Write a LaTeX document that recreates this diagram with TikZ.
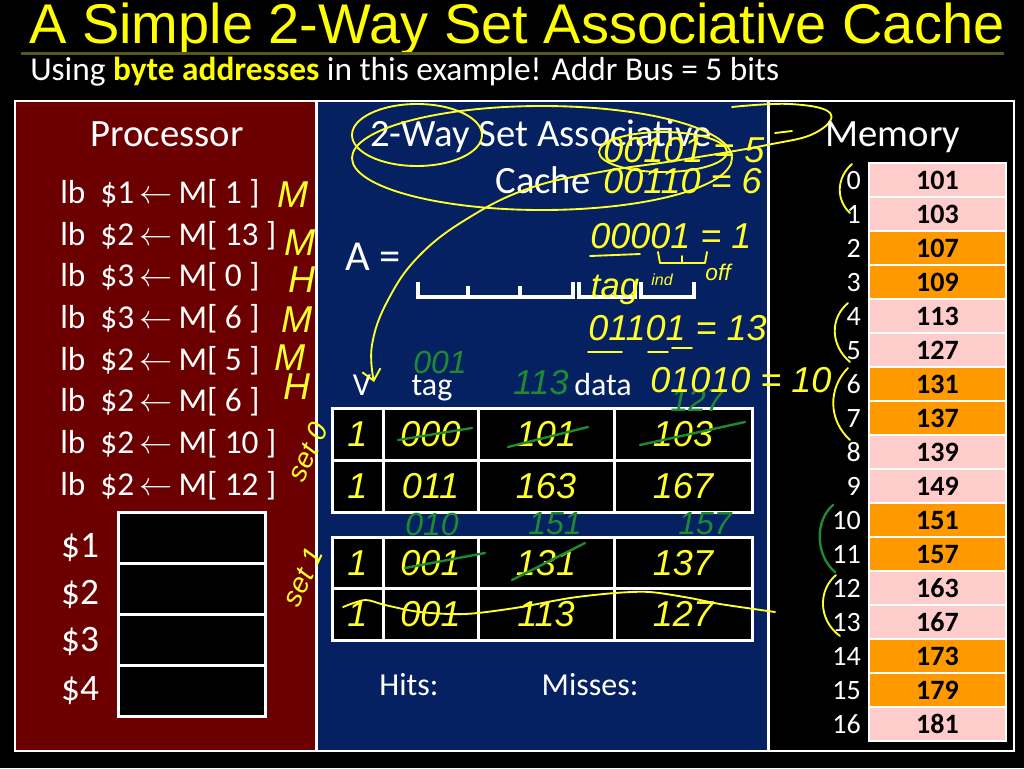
\documentclass[tikz,border=0pt]{standalone}
\usepackage{fontspec}
\setmainfont{Carlito}
\newfontfamily\arialfont{Liberation Sans}
\newfontfamily\handfont{Liberation Sans}
\usetikzlibrary{arrows.meta}
\definecolor{procred}{HTML}{6C0000}
\definecolor{cacheblue}{HTML}{052162}
\definecolor{mempink}{HTML}{FFCCCC}
\definecolor{memorange}{HTML}{FF9900}
\definecolor{hy}{HTML}{FFFF2A}
\definecolor{hg}{HTML}{1E8A32}
\definecolor{oliveline}{HTML}{56561E}
\definecolor{titleyellow}{HTML}{FFFF00}
\newcommand{\myhand}[1]{\handfont\itshape\fontsize{#1}{#1}\selectfont}
\newcommand{\myfs}[1]{\fontsize{#1}{#1}\selectfont}
\begin{document}
\begin{tikzpicture}[x=0.75pt,y=-0.75pt,
  wtext/.style={text=white, inner sep=0pt},
  headtext/.style={wtext, anchor=base, font=\myfs{29}},
  instr/.style={wtext, anchor=base west, font=\myfs{25}},
  reglbl/.style={wtext, anchor=base, font=\myfs{28}},
  regbox/.style={draw=white, fill=black, line width=2.25pt, minimum width=147*0.75pt, minimum height=51*0.75pt, inner sep=0pt},
  colhead/.style={wtext, anchor=base, font=\myfs{24}},
  cachecell/.style={draw=white, fill=black, line width=2.25pt, inner sep=0pt, text=hy, font=\myhand{27}},
  vcol/.style={cachecell, minimum width=51*0.75pt},
  tcol/.style={cachecell, minimum width=95*0.75pt},
  dacol/.style={cachecell, minimum width=136*0.75pt},
  dbcol/.style={cachecell, minimum width=138*0.75pt},
  rowa/.style={minimum height=52*0.75pt},
  rowb/.style={minimum height=51.5*0.75pt},
  memcell/.style={draw=white, line width=1.5pt, minimum width=137*0.75pt, minimum height=34*0.75pt, inner sep=0pt, text=black, font=\bfseries\myfs{21}},
  addr/.style={wtext, anchor=base east, font=\myfs{21}},
  hw/.style={text=hy, inner sep=0pt, font=\myhand{24}},
  hwbig/.style={text=hy, inner sep=0pt, font=\myhand{27}},
  hwg/.style={text=hg, inner sep=0pt, font=\myhand{24}},
  ystroke/.style={draw=hy, line width=1.4pt, line cap=round, line join=round},
  gstroke/.style={draw=hg, line width=1.8pt, line cap=round},
]
\useasboundingbox (0,0) rectangle (1024,768);
\fill[black] (0,0) rectangle (1024,768);

% title
\node[anchor=base west, text=titleyellow, inner sep=0pt, font=\arialfont\fontsize{42}{42}\selectfont] (title) at (29,43) {A Simple 2-Way Set Associative Cache};
\draw[oliveline, line width=2.25pt] (21,53) -- (1004,53);
\node[anchor=base west, text=white, inner sep=0pt, font=\myfs{25}] (sub) at (30,80) {Using \textcolor{titleyellow}{\bfseries byte addresses} in this example! Addr Bus = 5 bits};

% panels
\fill[procred] (15,101) rectangle (316,751);
\fill[cacheblue] (316,101) rectangle (768,751);
\draw[white, line width=1.5pt] (15,101) rectangle (1014,751);
\draw[white, line width=2.25pt] (316.5,101) -- (316.5,751);
\draw[white, line width=2.25pt] (768,101) -- (768,751);

% processor
\node[headtext] (proc) at (167,146) {Processor};
\node[instr] (i1) at (60,203) {lb\ \ \$1\,$\leftarrow$\,M[ 1 ]};
\node[instr] (i2) at (60,245) {lb\ \ \$2\,$\leftarrow$\,M[ 13 ]};
\node[instr] (i3) at (60,286) {lb\ \ \$3\,$\leftarrow$\,M[ 0 ]};
\node[instr] (i4) at (60,328) {lb\ \ \$3\,$\leftarrow$\,M[ 6 ]};
\node[instr] (i5) at (60,370) {lb\ \ \$2\,$\leftarrow$\,M[ 5 ]};
\node[instr] (i6) at (60,411) {lb\ \ \$2\,$\leftarrow$\,M[ 6 ]};
\node[instr] (i7) at (60,453) {lb\ \ \$2\,$\leftarrow$\,M[ 10 ]};
\node[instr] (i8) at (60,495) {lb\ \ \$2\,$\leftarrow$\,M[ 12 ]};

\node[regbox] (r1) at (191.5,537.5) {};
\node[regbox] (r2) at (191.5,588.5) {};
\node[regbox] (r3) at (191.5,639.5) {};
\node[regbox] (r4) at (191.5,690.5) {};
\node[reglbl] (l1) at (80,557) {\$1};
\node[reglbl] (l2) at (80,604) {\$2};
\node[reglbl] (l3) at (80,651) {\$3};
\node[reglbl] (l4) at (80,700) {\$4};

% hit / miss marks
\node[hw, font=\myhand{28}] (h1) at (293,195) {M};
\node[hw, font=\myhand{28}] (h2) at (300,243) {M};
\node[hw, font=\myhand{28}] (h3) at (302,280) {H};
\node[hw, font=\myhand{28}] (h4) at (297,320) {M};
\node[hw, font=\myhand{28}] (h5) at (290,358) {M};
\node[hw, font=\myhand{28}] (h6) at (297,387) {H};
\node[hw, font=\myhand{21}, rotate=65] (set0) at (308,452) {set 0};
\node[hw, font=\myhand{21}, rotate=65] (set1) at (303,577) {set 1};

% cache
\node[headtext] (c1) at (541,146) {2-Way Set Associative};
\node[headtext] (c2) at (543,193) {Cache};
\node[wtext, anchor=base west, font=\myfs{32}] (aeq) at (345,270) {A =};
\draw[white, line width=3pt] (418,282) -- (418,297) -- (573,297) -- (573,282);
\draw[white, line width=3pt] (468,286) -- (468,297);
\draw[white, line width=3pt] (520,286) -- (520,297);
\draw[white, line width=3pt] (579,282) -- (579,297) -- (635,297) -- (635,282);
\draw[white, line width=3pt] (641,282) -- (641,297) -- (694,297) -- (694,282);

\node[colhead] (hv) at (362,395) {V};
\node[colhead] (ht) at (432,395) {tag};
\node[colhead] (hd) at (603,395) {data};

\node[vcol, rowa] (a0v) at (357.5,434) {1};
\node[tcol, rowa] (a0t) at (430.5,434) {000};
\node[dacol, rowa] (a0d) at (546,434) {101};
\node[dbcol, rowa] (a0e) at (683,434) {103};
\node[vcol, rowa] (a1v) at (357.5,486) {1};
\node[tcol, rowa] (a1t) at (430.5,486) {011};
\node[dacol, rowa] (a1d) at (546,486) {163};
\node[dbcol, rowa] (a1e) at (683,486) {167};
\node[vcol, rowb] (b0v) at (357.5,562.75) {1};
\node[tcol, rowb] (b0t) at (430.5,562.75) {001};
\node[dacol, rowb] (b0d) at (546,562.75) {131};
\node[dbcol, rowb] (b0e) at (683,562.75) {137};
\node[vcol, rowb] (b1v) at (357.5,614.25) {1};
\node[tcol, rowb] (b1t) at (430.5,614.25) {001};
\node[dacol, rowb] (b1d) at (546,614.25) {113};
\node[dbcol, rowb] (b1e) at (683,614.25) {127};

% strike-outs
\draw[gstroke] (398,440) -- (472,428);
\draw[gstroke] (508,447) -- (588,427);
\draw[gstroke] (640,445) -- (745,422);
\draw[gstroke] (405,568) -- (485,553);
\draw[gstroke] (512,580) -- (585,543);
\draw[ystroke] plot[smooth] coordinates {(343,607) (365,600) (385,605) (420,612) (465,614) (515,608) (570,598) (615,593) (650,592) (690,598) (720,604) (775,612)};

% green updates
\node[hwg] (g1) at (440,362) {001};
\node[hwg, font=\myhand{26}] (g2) at (541,383) {113};
\node[hwg] (g3) at (697,400) {127};
\node[hwg] (g4) at (432,524) {010};
\node[hwg] (g5) at (555,524) {151};
\node[hwg] (g6) at (705,524) {157};

\node[colhead] (hits) at (409,695) {Hits:};
\node[colhead] (miss) at (590,695) {Misses:};

% address annotations
\node[hwbig, anchor=west] (e1) at (603,150) {00101 = 5};
\draw[ystroke] (775,133) -- (792,131);
\node[hwbig, anchor=west] (e2) at (603,181) {00110 = 6};
\node[hwbig, anchor=west] (e3) at (590,236) {00001 = 1};
\draw[ystroke] (590,256) -- (640,254);
\draw[ystroke] (658,252) -- (660,263) -- (705,263) -- (707,252);
\draw[ystroke] (682,256) -- (682,263);
\node[hw, font=\myhand{26}] (tagh) at (615,290) {tag};
\node[hw, font=\myhand{12}] (indh) at (662,280) {ind};
\node[hw, font=\myhand{17}] (offh) at (718,272) {off};
\node[hwbig, anchor=west] (e4) at (588,328) {01101 = 13};
\draw[ystroke] (588,352) -- (622,352);
\draw[ystroke] (648,352) -- (668,352);
\draw[ystroke] (672,348) -- (692,348);
\node[hwbig, anchor=west] (e5) at (650,380) {01010 = 10};

% loops and arrow
\draw[ystroke] (417,135) ellipse [x radius=65, y radius=31];
\draw[ystroke] (542,158) ellipse [x radius=190, y radius=52];
\draw[ystroke] (663,152) ellipse [x radius=64, y radius=20];
\draw[ystroke, -{Straight Barb[length=8pt,width=14pt]}] plot[smooth, tension=0.7] coordinates {(732,107) (790,104) (830,113) (815,133) (767,145) (680,160) (600,172) (530,188) (470,217) (420,255) (388,300) (372,345) (374,382)};

% memory
\node[headtext] (memh) at (893,146) {Memory};
\foreach \i/\v/\c in {0/101/mempink,1/103/mempink,2/107/memorange,3/109/memorange,4/113/mempink,5/127/mempink,6/131/memorange,7/137/memorange,8/139/mempink,9/149/mempink,10/151/memorange,11/157/memorange,12/163/mempink,13/167/mempink,14/173/memorange,15/179/memorange,16/181/mempink}{
  \node[memcell, fill=\c] (m\i) at (937.5,{180+34*\i}) {\v};
  \node[addr] (ad\i) at (861,{189+34*\i}) {\i};
}
\draw[ystroke] (852,164) .. controls (836,178) and (836,200) .. (850,213);
\draw[ystroke] (848,303) .. controls (830,318) and (830,345) .. (850,362);
\draw[ystroke] (848,368) .. controls (828,388) and (828,420) .. (850,440);
\draw[gstroke] (833,505) .. controls (815,520) and (815,555) .. (835,572);
\draw[ystroke] (836,575) .. controls (818,590) and (818,620) .. (840,636);
\end{tikzpicture}
\end{document}
